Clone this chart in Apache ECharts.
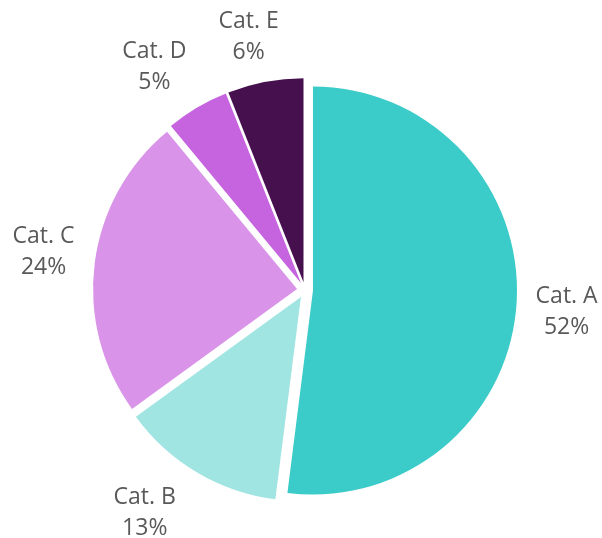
<!DOCTYPE html>
<html>
<head>
<meta charset="utf-8">
<script src="https://cdn.jsdelivr.net/npm/echarts@6/dist/echarts.min.js"></script>
<style>
html,body{margin:0;padding:0;background:#fff;}
#chart{width:602px;height:538px;}
</style>
</head>
<body>
<div id="chart"></div>
<script>
var categories = ['Cat. A', 'Cat. B', 'Cat. C', 'Cat. D', 'Cat. E'];
var values = [52, 13, 24, 5, 6];
var colors = ['#3bcbc8', '#a0e5e2', '#d993e8', '#c663de', '#46104f'];

var chart = echarts.init(document.getElementById('chart'), null, {renderer: 'canvas'});

var sliceData = categories.map(function (c, i) {
  return { name: c, value: values[i], selected: true, itemStyle: { color: colors[i] } };
});
var labelData = categories.map(function (c, i) {
  return { name: c, value: values[i] };
});

var center = [305, 290];

chart.setOption({
  animation: false,
  backgroundColor: '#ffffff',
  series: [
    {
      type: 'pie',
      center: center,
      radius: [0, 204],
      startAngle: 90,
      clockwise: true,
      selectedMode: 'multiple',
      selectedOffset: 8,
      silent: true,
      data: sliceData,
      label: { show: false },
      labelLine: { show: false },
      itemStyle: { borderWidth: 0 },
      emphasis: { disabled: true }
    },
    {
      type: 'pie',
      center: center,
      radius: [256, 262],
      startAngle: 90,
      clockwise: true,
      silent: true,
      data: labelData,
      itemStyle: { color: 'rgba(0,0,0,0)' },
      emphasis: { disabled: true },
      labelLine: { show: false },
      label: {
        show: true,
        position: 'inside',
        formatter: '{b}\n{d}%',
        color: '#595959',
        fontFamily: 'Open Sans',
        fontSize: 23,
        lineHeight: 31,
        align: 'center'
      },
      labelLayout: function (params) {
        var r = params.labelRect;
        var lx = r.x + r.width / 2, ly = r.y + r.height / 2;
        var dx = lx - center[0], dy = ly - center[1];
        var len = Math.sqrt(dx * dx + dy * dy) || 1;
        var ux = dx / len, uy = dy / len;
        return {
          x: lx + ux * (55 * Math.abs(uy) - 4) + 11 * ux * uy,
          y: ly + 6 * ux + (uy < 0 ? -6 * uy : 0),
          align: 'center',
          verticalAlign: 'middle'
        };
      }
    }
  ]
});
</script>
</body>
</html>
